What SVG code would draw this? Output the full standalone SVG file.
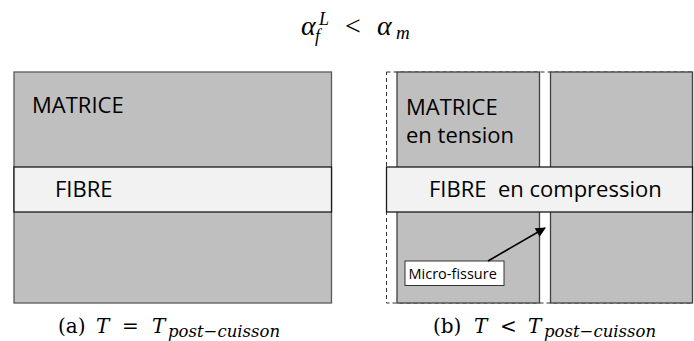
<svg xmlns="http://www.w3.org/2000/svg" width="694" height="341" viewBox="0 0 694 341">
<style>
.mat{fill:#bfbfbf;stroke:#404040;stroke-width:1.3}
.fib{fill:#f2f2f2;stroke:#1a1a1a;stroke-width:1.3}
.lbl{font-family:"Open Sans","Liberation Sans",sans-serif;font-size:22px;fill:#000}
.small{font-family:"Open Sans","Liberation Sans",sans-serif;font-size:14.5px;fill:#000}
.m{font-family:"Liberation Serif","DejaVu Serif",serif;fill:#000}
.c{font-family:"DejaVu Serif","Liberation Serif",serif;fill:#000;font-size:20px}
.sub{font-size:16.5px}
.it{font-style:italic}
</style>
<defs>
<marker id="ah" viewBox="0 0 10 10" refX="9" refY="5" markerWidth="12" markerHeight="10" orient="auto" markerUnits="userSpaceOnUse">
<path d="M0,0 L10,5 L0,10 z" fill="#000"/>
</marker>
</defs>
<g id="title">
<text class="m it" x="301" y="35" font-size="28">α</text>
<text class="m it" x="319" y="25" font-size="18">L</text>
<text class="m it" x="315" y="42" font-size="18">f</text>
<text class="m" x="345" y="35" font-size="28">&lt;</text>
<text class="m it" x="377" y="35" font-size="28">α</text>
<text class="m it" x="396" y="39" font-size="19">m</text>
</g>
<g id="panel-a">
<rect class="mat" x="14" y="72" width="317.5" height="231" style="stroke:#595959"/>
<rect class="fib" x="14" y="167" width="317.5" height="45"/>
<text class="lbl" x="32" y="113">MATRICE</text>
<text class="lbl" x="55" y="197">FIBRE</text>
</g>
<g id="panel-b">
<rect x="386.5" y="72" width="306" height="231" fill="none" stroke="#333" stroke-width="1" stroke-dasharray="4,3"/>
<rect class="mat" x="397" y="72" width="142.5" height="231"/>
<rect class="mat" x="550.5" y="72" width="142" height="231"/>
<rect class="fib" x="386.5" y="167" width="306" height="45"/>
<text class="lbl" x="406" y="115">MATRICE</text>
<text class="lbl" x="406" y="143">en tension</text>
<text class="lbl" x="429" y="197" xml:space="preserve">FIBRE  en compression</text>
</g>
<g id="micro-fissure">
<rect x="405" y="261" width="99" height="24.5" fill="#fff" stroke="#333" stroke-width="1"/>
<text class="small" x="408.5" y="278.5">Micro-fissure</text>
</g>
<g id="connectors">
<line x1="488" y1="261" x2="545" y2="228" stroke="#000" stroke-width="1.6" marker-end="url(#ah)"/>
</g>
<g id="caption-a">
<text class="c" x="58" y="333">(a)</text>
<text class="c it" x="96" y="333">T</text>
<text class="c" x="122" y="333">=</text>
<text class="c it" x="152" y="333">T</text>
<text class="c it sub" x="168" y="337">post−cuisson</text>
</g>
<g id="caption-b">
<text class="c" x="433" y="333">(b)</text>
<text class="c it" x="474" y="333">T</text>
<text class="c" x="500" y="333">&lt;</text>
<text class="c it" x="528" y="333">T</text>
<text class="c it sub" x="544" y="337">post−cuisson</text>
</g>
</svg>
